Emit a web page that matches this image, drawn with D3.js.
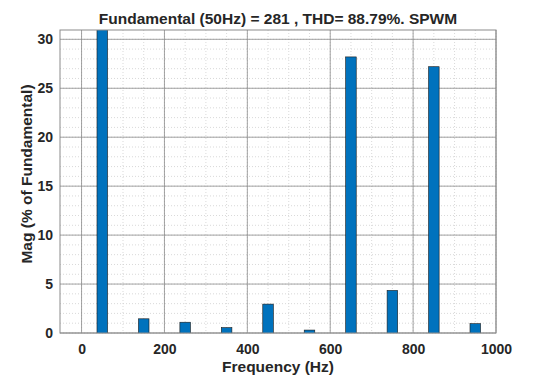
<!DOCTYPE html>
<html>
<head>
<meta charset="utf-8">
<script src="https://cdn.jsdelivr.net/npm/d3@7"></script>
<style>
  body { margin: 0; background: #fff; }
  text { font-family: "Liberation Sans", Arial, sans-serif; font-weight: bold; fill: #262626; }
</style>
</head>
<body>
<div id="chart"></div>
<script>
const freqs = [50, 150, 250, 350, 450, 550, 650, 750, 850, 950]
const mags = [100, 1.45, 1.1, 0.55, 2.95, 0.3, 28.2, 4.35, 27.2, 0.95]
const xTicks = [0, 200, 400, 600, 800, 1000]
const yTicks = [0, 5, 10, 15, 20, 25, 30]
const title = 'Fundamental (50Hz) = 281 , THD= 88.79%. SPWM'

const width = 534, height = 380
const margin = { top: 30, right: 38, bottom: 47, left: 60 }
const w = width - margin.left - margin.right
const h = height - margin.top - margin.bottom

const svg = d3.select('#chart').append('svg')
  .attr('width', width)
  .attr('height', height)

const g = svg.append('g')
  .attr('transform', 'translate(' + margin.left + ',' + margin.top + ')')

const x = d3.scaleLinear().domain([-52, 1000]).range([0, w])
const y = d3.scaleLinear().domain([0, 30.95]).range([h, 0])

g.append('defs').append('clipPath').attr('id', 'clip')
  .append('rect').attr('width', w).attr('height', h)

// minor grid
const xMinor = d3.range(0, 1001, 50)
const yMinor = d3.range(0, 31, 1)
g.append('g').selectAll('line').data(xMinor).join('line')
  .attr('x1', d => x(d)).attr('x2', d => x(d))
  .attr('y1', 0).attr('y2', h)
  .attr('stroke', '#cfcfcf').attr('stroke-width', 0.8).attr('stroke-dasharray', '1,2')
g.append('g').selectAll('line').data(yMinor).join('line')
  .attr('x1', 0).attr('x2', w)
  .attr('y1', d => y(d)).attr('y2', d => y(d))
  .attr('stroke', '#cfcfcf').attr('stroke-width', 0.8).attr('stroke-dasharray', '1,2')

// major grid
g.append('g').selectAll('line').data(xTicks).join('line')
  .attr('x1', d => x(d)).attr('x2', d => x(d))
  .attr('y1', 0).attr('y2', h)
  .attr('stroke', '#8c8c8c').attr('stroke-width', 0.8)
g.append('g').selectAll('line').data(yTicks).join('line')
  .attr('x1', 0).attr('x2', w)
  .attr('y1', d => y(d)).attr('y2', d => y(d))
  .attr('stroke', '#8c8c8c').attr('stroke-width', 0.8)

// bars
const barW = x(25.5) - x(0)
g.append('g').attr('clip-path', 'url(#clip)')
  .selectAll('rect').data(freqs).join('rect')
  .attr('x', d => x(d) - barW / 2)
  .attr('y', (d, i) => y(mags[i]))
  .attr('width', barW)
  .attr('height', (d, i) => h - y(mags[i]) + 1)
  .attr('fill', '#0072BD')
  .attr('stroke', '#1a1a1a')
  .attr('stroke-width', 0.6)

// box
g.append('rect')
  .attr('width', w).attr('height', h)
  .attr('fill', 'none').attr('stroke', '#8c8c8c').attr('stroke-width', 1)

// axes
const xAxis = g.append('g')
  .attr('transform', 'translate(0,' + h + ')')
  .call(d3.axisBottom(x).tickValues(xTicks).tickFormat(d3.format('d')).tickSize(0).tickPadding(11))
xAxis.select('.domain').remove()
xAxis.selectAll('text').style('font-size', '14px')

const yAxis = g.append('g')
  .call(d3.axisLeft(y).tickValues(yTicks).tickSize(0).tickPadding(7))
yAxis.select('.domain').remove()
yAxis.selectAll('text').style('font-size', '14px')

svg.append('text')
  .attr('x', margin.left + w / 2).attr('y', 24)
  .attr('text-anchor', 'middle')
  .style('font-size', '15.5px')
  .text(title)

svg.append('text')
  .attr('x', margin.left + w / 2).attr('y', 372)
  .attr('text-anchor', 'middle')
  .style('font-size', '15.5px')
  .text('Frequency (Hz)')

svg.append('text')
  .attr('transform', 'translate(32,174) rotate(-90)')
  .attr('text-anchor', 'middle')
  .style('font-size', '15.5px')
  .text('Mag (% of Fundamental)')
</script>
</body>
</html>
